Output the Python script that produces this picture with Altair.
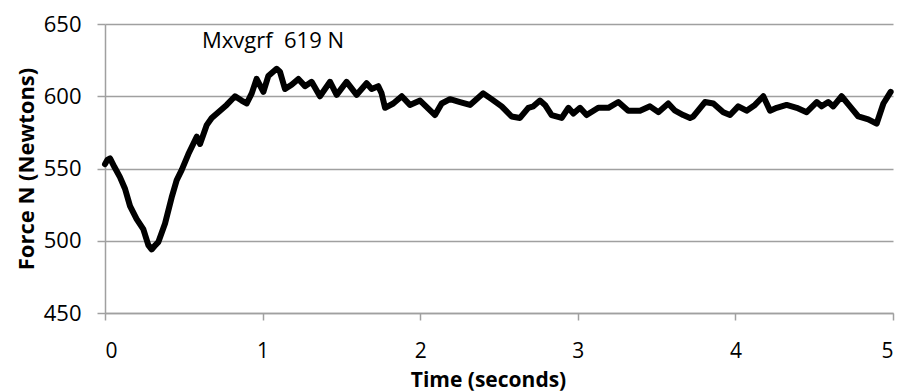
import altair as alt
import pandas as pd

time_s = [0.000, 0.015, 0.032, 0.060, 0.095, 0.127, 0.159, 0.201, 0.243, 0.275,
          0.296, 0.320, 0.338, 0.381, 0.423, 0.455, 0.487, 0.529, 0.582, 0.603,
          0.645, 0.677, 0.730, 0.772, 0.825, 0.867, 0.899, 0.931, 0.962, 1.005,
          1.036, 1.089, 1.110, 1.142, 1.184, 1.227, 1.269, 1.311, 1.364, 1.428,
          1.470, 1.533, 1.597, 1.660, 1.692, 1.734, 1.755, 1.777, 1.829, 1.883,
          1.935, 1.999, 2.094, 2.136, 2.189, 2.253, 2.316, 2.400, 2.453, 2.517,
          2.580, 2.633, 2.686, 2.718, 2.760, 2.792, 2.834, 2.898, 2.940, 2.972,
          3.014, 3.056, 3.130, 3.194, 3.257, 3.320, 3.395, 3.458, 3.511, 3.574,
          3.617, 3.669, 3.712, 3.733, 3.807, 3.860, 3.923, 3.966, 4.018, 4.071,
          4.124, 4.177, 4.220, 4.262, 4.325, 4.389, 4.452, 4.516, 4.547, 4.589,
          4.621, 4.674, 4.727, 4.780, 4.843, 4.896, 4.939, 4.985]
force_n = [553, 556, 557, 551, 544, 536, 524, 515, 508, 497,
           494, 497, 499, 512, 530, 542, 549, 560, 572, 567,
           580, 585, 590, 594, 600, 597, 595, 602, 612, 603,
           614, 619, 617, 605, 608, 612, 607, 610, 600, 610,
           601, 610, 601, 609, 605, 607, 602, 592, 595, 600,
           594, 597, 587, 595, 598, 596, 594, 602, 598, 593,
           586, 585, 592, 593, 597, 594, 587, 585, 592, 588,
           592, 587, 592, 592, 596, 590, 590, 593, 589, 595,
           590, 587, 585, 586, 596, 595, 589, 587, 593, 590,
           594, 600, 590, 592, 594, 592, 589, 596, 593, 596,
           593, 600, 593, 586, 584, 581, 595, 603]

x_ticks = [0, 1, 2, 3, 4, 5]
y_ticks = [450, 500, 550, 600, 650]

note_text = ["Mxvgrf\u00a0 619 N"]
note_t = [0.615]
note_f = [633.4]

df = pd.DataFrame({"t": time_s, "f": force_n})
note = pd.DataFrame({"t": note_t, "f": note_f, "label": note_text})

FONT = "Open Sans"
GRAY = "#a0a0a0"

x_enc = alt.X(
    "t:Q",
    scale=alt.Scale(domain=[0, 5], nice=False, zero=False),
    axis=alt.Axis(
        values=x_ticks, format="d", title="Time (seconds)", grid=False,
        tickSize=7, tickColor=GRAY, tickWidth=1.5, domainColor=GRAY, domainWidth=1.5,
        labelPadding=20, labelFontSize=21, labelFont=FONT, labelColor="black",
        titleFont=FONT, titleFontSize=21, titleFontWeight="bold", titleColor="black",
        titleX=383, titleY=73, titleBaseline="alphabetic", titleAlign="center",
    ),
)
y_enc = alt.Y(
    "f:Q",
    scale=alt.Scale(domain=[450, 650], nice=False, zero=False),
    axis=alt.Axis(
        values=y_ticks, title="Force N (Newtons)", grid=True,
        gridColor=GRAY, gridWidth=1.5,
        tickSize=8, tickColor=GRAY, tickWidth=1.5, domainColor=GRAY, domainWidth=1.5,
        labelPadding=16, labelFontSize=22, labelFont=FONT, labelColor="black",
        titleFont=FONT, titleFontSize=22, titleFontWeight="bold", titleColor="black",
        titleX=-72, titleY=144.5, titleAngle=270, titleBaseline="alphabetic",
        titleAlign="center",
    ),
)

line = alt.Chart(df).mark_line(
    color="black", strokeWidth=6, strokeJoin="round", strokeCap="round"
).encode(x=x_enc, y=y_enc)

text = alt.Chart(note).mark_text(
    align="left", baseline="alphabetic", font=FONT, fontSize=22, color="black"
).encode(x="t:Q", y="f:Q", text="label:N")

chart = (
    alt.layer(line, text)
    .properties(
        width=788, height=289,
        padding={"left": 105, "top": 24, "right": 9, "bottom": 79},
        autosize=alt.AutoSizeParams(type="none"),
        background="white",
    )
    .configure_view(stroke=None)
)

chart.save("out.html", embed_options={"renderer": "svg", "actions": False})
